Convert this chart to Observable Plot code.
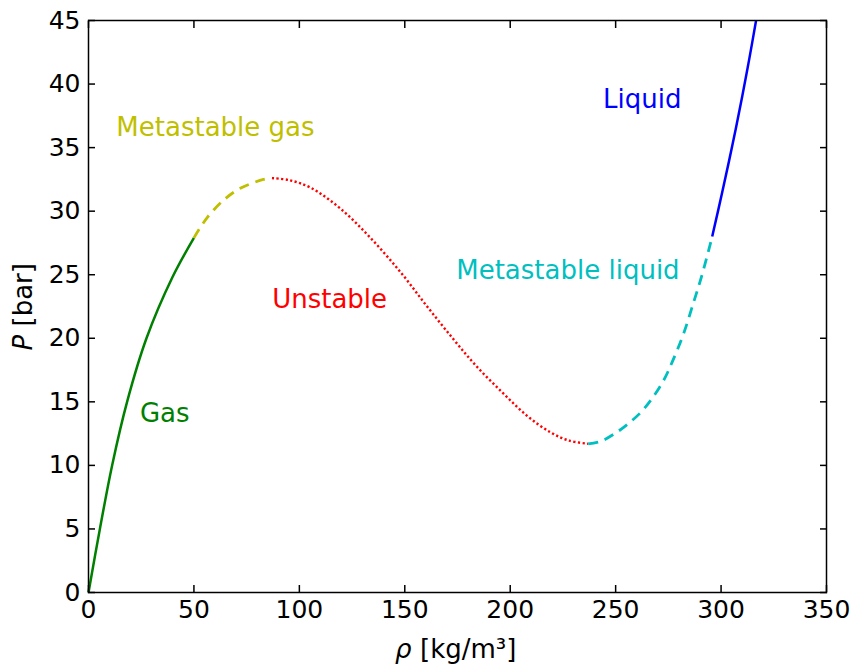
<!DOCTYPE html>
<html>
<head>
<meta charset="utf-8">
<script src="https://cdn.jsdelivr.net/npm/d3@7"></script>
<script src="https://cdn.jsdelivr.net/npm/@observablehq/plot@0.6"></script>
<style>
  body { margin: 0; background: #fff; }
  #chart svg { display: block; font-family: "DejaVu Sans", sans-serif; }
</style>
</head>
<body>
<div id="chart"></div>
<script>
// Isotherm P(ρ), split into its stability regions (ρ in kg/m³, P in bar)
const gasRho = [0, 5.4, 11.2, 18.3, 27.5, 39.8, 50];
const gasP   = [0, 5.0, 10.0, 15.0, 20.0, 24.8, 27.9];

const metaGasRho = [50, 56.3, 65, 72, 77.6, 83, 87];
const metaGasP   = [27.9, 29.5, 31.0, 31.8, 32.2, 32.5, 32.6];

const unstableRho = [87, 95, 105.3, 119.5, 133.7, 148, 160.6, 173.2, 184, 196.5, 208, 219.1, 228, 237];
const unstableP   = [32.6, 32.45, 31.85, 30.2, 27.9, 25.2, 22.5, 19.9, 17.8, 15.7, 13.9, 12.6, 11.95, 11.7];

const metaLiqRho = [237, 243, 249.1, 255, 261.8, 267, 272.8, 277, 282.3, 287.1, 291, 295.8];
const metaLiqP   = [11.7, 11.9, 12.45, 13.15, 14.15, 15.2, 16.7, 18.2, 20.4, 22.9, 25.0, 28.0];

const liquidRho = [295.8, 300.7, 305.5, 310.0, 313.4, 316.6];
const liquidP   = [28.0, 31.6, 35.3, 39.0, 42.0, 45.0];

// Axis ticks
const xTicks = [0, 50, 100, 150, 200, 250, 300, 350];
const yTicks = [0, 5, 10, 15, 20, 25, 30, 35, 40, 45];

// Region names and where their labels sit (left edge, baseline)
const regionNames = ["Gas", "Metastable gas", "Unstable", "Metastable liquid", "Liquid"];
const labelRho = [24.4, 13.2, 87.1, 174.4, 244];
const labelP   = [13.4, 35.95, 22.4, 24.7, 38.1];

const regions = [
  {name: "Gas",               rho: gasRho,      p: gasP,      color: "#008000", dash: null,    width: 2.5},
  {name: "Metastable gas",    rho: metaGasRho,  p: metaGasP,  color: "#bfbf00", dash: "10,7",  width: 2.8},
  {name: "Unstable",          rho: unstableRho, p: unstableP, color: "#ff0000", dash: "2.2,2.4", width: 2.4},
  {name: "Metastable liquid", rho: metaLiqRho,  p: metaLiqP,  color: "#00bfbf", dash: "10,7",  width: 2.8},
  {name: "Liquid",            rho: liquidRho,   p: liquidP,   color: "#0000ff", dash: null,    width: 2.5}
];

const colorOf = Object.fromEntries(regions.map(r => [r.name, r.color]));

const labels = regionNames.map((name, i) => ({name, rho: labelRho[i], p: labelP[i]}));

const font = "DejaVu Sans, sans-serif";

const lineMarks = regions.map(r =>
  Plot.line(r.rho.map((x, i) => ({rho: x, p: r.p[i]})), {
    x: "rho", y: "p",
    stroke: r.color,
    strokeWidth: r.width,
    strokeDasharray: r.dash,
    strokeLinecap: "butt",
    curve: "catmull-rom"
  })
);

const chart = Plot.plot({
  width: 854,
  height: 664,
  marginLeft: 88,
  marginRight: 28,
  marginTop: 20,
  marginBottom: 72,
  style: {fontFamily: font, background: "#fff"},
  x: {domain: [0, 350]},
  y: {domain: [0, 45]},
  marks: [
    ...lineMarks,
    Plot.text(labels, {
      x: "rho", y: "p", text: "name",
      fill: d => colorOf[d.name],
      textAnchor: "start", lineAnchor: "bottom",
      fontSize: 26, fontFamily: font
    }),
    // inward ticks on all four sides, labels on bottom and left
    Plot.axisX({anchor: "bottom", ticks: xTicks, tickSize: -7, tickPadding: 15, fontSize: 25, fill: "#000", label: null, strokeWidth: 1.5}),
    Plot.axisX({anchor: "top", ticks: xTicks, tickSize: -7, tickFormat: () => "", label: null, strokeWidth: 1.5}),
    Plot.axisY({anchor: "left", ticks: yTicks, tickSize: -7, tickPadding: 15, fontSize: 25, fill: "#000", label: null, strokeWidth: 1.5}),
    Plot.axisY({anchor: "right", ticks: yTicks, tickSize: -7, tickFormat: () => "", label: null, strokeWidth: 1.5}),
    Plot.frame({stroke: "#000", strokeWidth: 1.5}),
    // axis titles: ρ [kg/m³] and P [bar], symbols in italics
    Plot.text(["ρ"], {frameAnchor: "bottom", dx: -62.5, dy: 65, textAnchor: "start", lineAnchor: "bottom", fontStyle: "italic", fontSize: 26, fontFamily: font, fill: "#000"}),
    Plot.text(["[kg/m³]"], {frameAnchor: "bottom", dx: -37.5, dy: 65, textAnchor: "start", lineAnchor: "bottom", fontSize: 26, fontFamily: font, fill: "#000"}),
    Plot.text(["P"], {frameAnchor: "left", dx: -56.5, dy: 44, rotate: -90, textAnchor: "start", lineAnchor: "bottom", fontStyle: "italic", fontSize: 26, fontFamily: font, fill: "#000"}),
    Plot.text(["[bar]"], {frameAnchor: "left", dx: -56.5, dy: 20, rotate: -90, textAnchor: "start", lineAnchor: "bottom", fontSize: 26, fontFamily: font, fill: "#000"})
  ]
});

document.getElementById("chart").append(chart);
</script>
</body>
</html>
